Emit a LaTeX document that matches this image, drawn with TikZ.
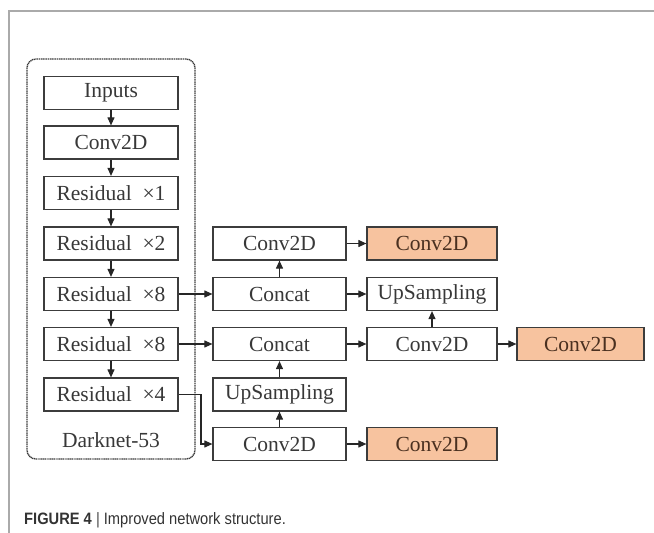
\documentclass[tikz,border=0pt]{standalone}
\usepackage{fontspec}
\setmainfont{Liberation Serif}
\newfontfamily\capfont{Liberation Sans}
\usetikzlibrary{shapes,arrows.meta,positioning}
\usepackage{xcolor}
\definecolor{boxline}{HTML}{3C3C3C}
\definecolor{boxtext}{HTML}{383838}
\definecolor{outfill}{HTML}{F7C39F}
\definecolor{outtext}{HTML}{4A3020}
\definecolor{framegray}{HTML}{AAAAAA}

\tikzset{
  block/.style={rectangle, draw=boxline, line width=1.2pt, text=boxtext,
    minimum width=134pt, minimum height=33pt, inner sep=0pt,
    font=\fontsize{21.5}{23}\selectfont},
  outblock/.style={block, fill=outfill, text=outtext, minimum width=130pt},
  flow/.style={-{Triangle[length=8pt,width=7pt]}, line width=1.1pt, draw=black!85}
}

\begin{document}
\begin{tikzpicture}[x=1pt, y=-1pt]
    \useasboundingbox (0,0) rectangle (654,533);

    % Frame
    \draw[framegray, line width=1.4pt] (654,11) -- (9,11) -- (9,533);

    % Backbone
    \node[block] (inputs) at (111,93) {Inputs};
    \node[block] (conv) at (111,142.5) {Conv2D};
    \node[block] (res1) at (111,193) {Residual\enspace×1};
    \node[block] (res2) at (111,243.5) {Residual\enspace×2};
    \node[block] (res8a) at (111,294) {Residual\enspace×8};
    \node[block] (res8b) at (111,344) {Residual\enspace×8};
    \node[block] (res4) at (111,394.5) {Residual\enspace×4};
    \node[text=boxtext, font=\fontsize{21.5}{23}\selectfont] (dnlabel) at (111,440) {Darknet-53};
    \node[draw=boxline, line width=1.4pt, dash pattern=on 1.2pt off 0.6pt,
          rounded corners=9pt, minimum width=168pt, minimum height=400pt]
          (darknet) at (111,259) {};

    % Middle column
    \node[block, minimum width=133pt] (convA) at (279.5,243.5) {Conv2D};
    \node[block, minimum width=133pt] (concatA) at (279.5,294) {Concat};
    \node[block, minimum width=133pt] (concatB) at (279.5,344) {Concat};
    \node[block, minimum width=133pt] (upB) at (279.5,394.5) {UpSampling};
    \node[block, minimum width=133pt] (convC) at (279.5,444) {Conv2D};

    % Right column
    \node[outblock] (outA) at (432,243.5) {Conv2D};
    \node[block, minimum width=130pt] (upA) at (432,294) {UpSampling};
    \node[block, minimum width=130pt] (convB) at (432,344) {Conv2D};
    \node[outblock, minimum width=127pt] (outB) at (580.5,344) {Conv2D};
    \node[outblock] (outC) at (432,444) {Conv2D};

    % Flows
    \draw[flow] (inputs) -- (conv);
    \draw[flow] (conv) -- (res1);
    \draw[flow] (res1) -- (res2);
    \draw[flow] (res2) -- (res8a);
    \draw[flow] (res8a) -- (res8b);
    \draw[flow] (res8b) -- (res4);
    \draw[flow] (res8a) -- (concatA);
    \draw[flow] (res8b) -- (concatB);
    \coordinate (bend) at (201,394.5);
    \draw[flow] (res4.east) -- (bend) |- (convC.west);
    \draw[flow] (convC) -- (upB);
    \draw[flow] (upB) -- (concatB);
    \draw[flow] (concatB) -- (convB);
    \draw[flow] (convB) -- (upA);
    \draw[flow] (concatA) -- (upA);
    \draw[flow] (concatA) -- (convA);
    \draw[flow] (convA) -- (outA);
    \draw[flow] (convB) -- (outB);
    \draw[flow] (convC) -- (outC);

    % Caption
    \node[anchor=west, inner sep=0pt, text=black!80] (caption) at (24,520)
      {\scalebox{0.89}[1]{\capfont\fontsize{16.5}{18}\selectfont
       \textbf{FIGURE 4}\ {\color{black!70}|}\ Improved network structure.}};
\end{tikzpicture}
\end{document}
